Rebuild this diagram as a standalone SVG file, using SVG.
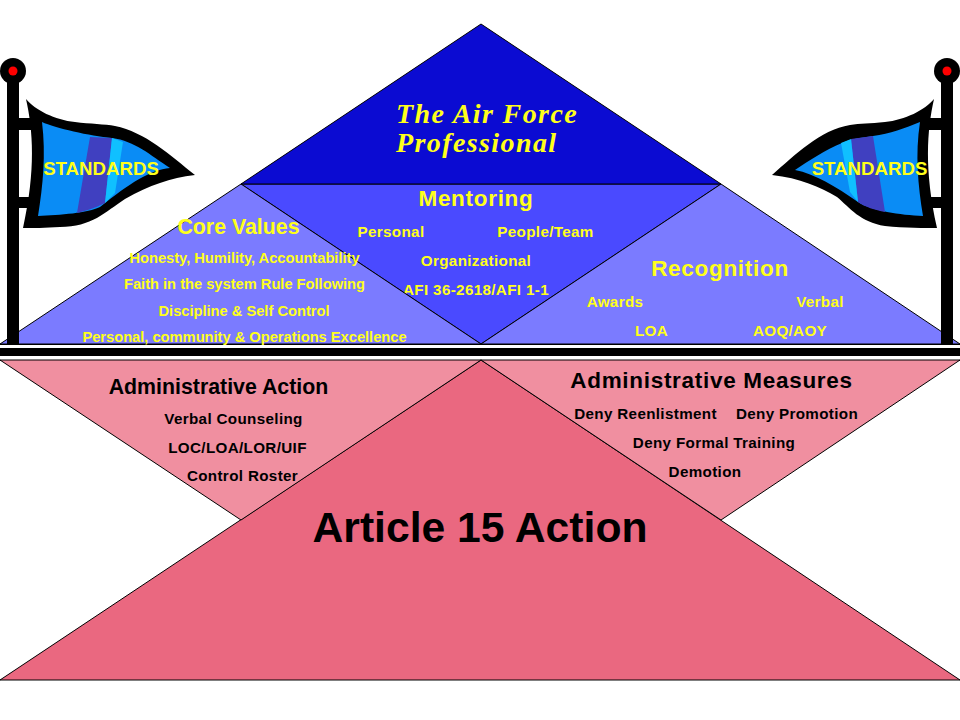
<svg xmlns="http://www.w3.org/2000/svg" width="960" height="720" viewBox="0 0 960 720">
<style>
text{font-family:"Liberation Sans",Arial,sans-serif;font-weight:bold}
.tri{stroke:#000;stroke-width:1}
.y{fill:#ffff1a}
.k{fill:#000}
.h{font-size:21.33px}
.H{font-size:22.5px;letter-spacing:.7px}
.s{font-size:14.67px}
.S{font-size:15.2px;letter-spacing:.35px}
.m{text-anchor:middle}
.blk{fill:#000}
.sc{font-family:"Liberation Serif",serif;font-style:italic;font-size:28px;letter-spacing:1.4px}
</style>
<rect width="960" height="720" fill="#fff"/>
<g id="bars">
<rect x="0" y="344" width="960" height="1" fill="#000"/>
<rect x="0" y="348" width="960" height="8" fill="#000"/>
<rect x="0" y="360" width="960" height="1" fill="#000"/>
</g>
<g id="mentoring">
<polygon class="tri" points="241,184 721,184 481,344" fill="#4a4aff"/>
<text class="y H m" x="476" y="205.500">Mentoring</text>
<text class="y S m" x="391" y="236.500">Personal</text>
<text class="y S m" x="545.500" y="236.500">People/Team</text>
<text class="y S m" x="476" y="265.500">Organizational</text>
<text class="y S m" x="476" y="294.500">AFI 36-2618/AFI 1-1</text>
</g>
<g id="core-values">
<polygon class="tri" points="241,184 481,344 0,344" fill="#7b7bff"/>
<text class="y h m" x="238.500" y="234">Core Values</text>
<text class="y s m" x="244.500" y="263">Honesty, Humility, Accountability</text>
<text class="y s m" x="244.500" y="289">Faith in the system Rule Following</text>
<text class="y s m" x="244" y="316">Discipline &amp; Self Control</text>
<text class="y s m" x="244.500" y="342">Personal, community &amp; Operations Excellence</text>
</g>
<g id="recognition">
<polygon class="tri" points="721,184 960,344 481,344" fill="#7b7bff"/>
<text class="y H m" x="720" y="275.500">Recognition</text>
<text class="y S m" x="615" y="306.500">Awards</text>
<text class="y S m" x="820" y="306.500">Verbal</text>
<text class="y S m" x="651.500" y="335.500">LOA</text>
<text class="y S m" x="790" y="335.500">AOQ/AOY</text>
</g>
<g id="air-force-professional">
<polygon class="tri" points="481,24 241,184 721,184" fill="#0b0bd2"/>
<text x="396" y="123" class="y sc">The Air Force</text>
<text x="396" y="152" class="y sc">Professional</text>
</g>
<g id="article-15">
<polygon class="tri" points="481,360 960,680 0,680" fill="#ea6880"/>
<text class="k m" x="480" y="542" font-size="42.67">Article 15 Action</text>
</g>
<g id="administrative-action">
<polygon class="tri" points="0,360 481,360 241,520" fill="#f08fa0"/>
<text class="k h m" x="218.500" y="394">Administrative Action</text>
<text class="k S m" x="233.500" y="423.500">Verbal Counseling</text>
<text class="k S m" x="237.500" y="452.500">LOC/LOA/LOR/UIF</text>
<text class="k S m" x="242.500" y="480.500">Control Roster</text>
</g>
<g id="administrative-measures">
<polygon class="tri" points="481,360 960,360 721,520" fill="#f08fa0"/>
<text class="k H m" x="711.500" y="387.500">Administrative Measures</text>
<text class="k S m" x="645.500" y="418.500">Deny Reenlistment</text>
<text class="k S m" x="797" y="418.500">Deny Promotion</text>
<text class="k S m" x="714" y="447.500">Deny Formal Training</text>
<text class="k S m" x="705" y="476.500">Demotion</text>
</g>
<g id="flag-left">
<rect class="blk" x="7" y="71" width="12" height="274"/>
<circle class="blk" cx="13" cy="71" r="13"/>
<circle cx="13" cy="71" r="4.5" fill="#f00"/>
<rect class="blk" x="19" y="118" width="15" height="12"/>
<rect class="blk" x="19" y="197" width="15" height="11"/>
<path class="blk" d="M26,99C35,110 55,120 75,122C90,124 105,124 115,126C145,132 170,155 195,175C170,178 150,185 125,199C105,212 92,227 60,227C45,228 33,228 23,228C36,170 33,130 26,99Z"/>
<path fill="#0a8cf5" d="M42,122C55,128 90,136 112,138C135,141 150,155 170,168C150,170 130,183 100,207C88,213 60,215 38,216C43,185 46,155 42,122Z"/>
<path fill="#4040c0" d="M90,137L112,138L105,203C95,208 85,211 77,213Z"/>
<path fill="#10c0ff" d="M112,138L123,142L115,193L105,203Z"/>
<text class="y m" x="101" y="175" font-size="18.670">STANDARDS</text>
</g>
<g id="flag-right">
<rect class="blk" x="941" y="71" width="12" height="274"/>
<circle class="blk" cx="947" cy="71" r="13"/>
<circle cx="947" cy="71" r="4.5" fill="#f00"/>
<rect class="blk" x="926" y="118" width="15" height="12"/>
<rect class="blk" x="926" y="197" width="15" height="11"/>
<path class="blk" d="M934,99C925,110 905,120 885,122C870,124 860,123 850,125C820,130 795,155 772,175C800,178 820,187 837,197C850,208 860,222 885,226C905,228 925,228 937,228C924,170 927,130 934,99Z"/>
<path fill="#0a8cf5" d="M920,122C905,128 890,134 873,136C860,138 850,139 842,143C825,150 810,160 795,170C815,174 835,186 858,202C872,211 900,215 923,216C918,185 915,155 920,122Z"/>
<path fill="#4040c0" d="M851,139L873,136L885,212C875,210 865,207 858,202Z"/>
<path fill="#10c0ff" d="M841,143L851,139L858,202L850,192Z"/>
<text class="y m" x="869.500" y="175" font-size="18.670">STANDARDS</text>
</g>
</svg>
